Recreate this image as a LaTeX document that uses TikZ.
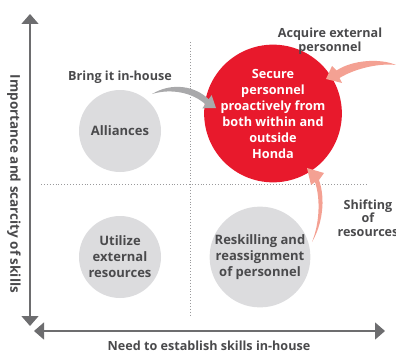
\documentclass[tikz,border=0pt]{standalone}
\usepackage{fontspec}
\setmainfont{Open Sans}
\usetikzlibrary{arrows.meta}
\definecolor{hondared}{HTML}{E8192C}
\definecolor{salmon}{HTML}{F4A193}
\definecolor{circgray}{HTML}{DCDCDE}
\definecolor{arrowgray}{HTML}{A9A9AB}
\definecolor{axisgray}{HTML}{6D6D6F}
\definecolor{dotgray}{HTML}{9A9A9C}
\definecolor{textgray}{HTML}{4A4A4C}
\tikzset{
  axis/.style={line width=1.5pt, draw=axisgray,
    {Triangle[width=17pt,length=10pt,fill=axisgray]}-{Triangle[width=17pt,length=10pt,fill=axisgray]}},
  gridline/.style={dotted, line width=0.9pt, draw=dotgray},
  quad/.style={circle, fill=circgray, minimum size=82pt, inner sep=0pt,
    align=center, text=textgray, font=\bfseries\fontsize{13}{16}\selectfont},
  goal/.style={circle, fill=hondared, minimum size=114pt, inner sep=0pt,
    align=center, text=white, font=\bfseries\fontsize{12.7}{16}\selectfont},
  lbl/.style={align=center, text=textgray, font=\bfseries\fontsize{12.6}{13.5}\selectfont},
}
\begin{document}
\begin{tikzpicture}[x=1pt,y=-1pt]
  \useasboundingbox (0,0) rectangle (396,361);

  % Achsen
  \coordinate (ytop) at (30,14);
  \coordinate (ybot) at (30,326);
  \coordinate (xleft) at (34,331);
  \coordinate (xright) at (385,331);
  \draw[axis] (ybot) -- (ytop);
  \draw[axis] (xleft) -- (xright);

  % Quadranten
  \draw[gridline] (190,42) -- (190,317);
  \draw[gridline] (41,184) -- (368,184);

  % Kreise
  \node[quad] (alli) at (120,131) {Alliances};
  \node[quad] (util) at (120,257) {Utilize\\external\\resources};
  \node[quad] (resk) at (260,257) {Reskilling and\\reassignment\\of personnel};
  \node[goal] (secure) at (273,113.5) {Secure\\personnel\\proactively from\\both within and\\outside\\Honda};

  % Pfeile
  \coordinate (inhouse) at (152,94);
  \fill[arrowgray] (inhouse) .. controls (172,82) and (195,86) .. (208.7,99.2)
    -- (211.6,95.1) -- (216,108) -- (202.4,108.3) -- (205.3,104.2)
    .. controls (193,93) and (172,88) .. (inhouse) -- cycle;
  \coordinate (outside) at (396,65);
  \fill[salmon] (outside) .. controls (380,58) and (352,60) .. (336.5,70.5)
    -- (332,66) -- (326,79) -- (342,83) -- (339.5,78)
    .. controls (356,68) and (380,63) .. (outside) -- cycle;
  \coordinate (shift) at (312,242);
  \fill[salmon] (shift) .. controls (322,225) and (326,200) .. (319,180)
    -- (324,173) -- (307,168) -- (311,185) -- (315,182)
    .. controls (321,200) and (319,225) .. (shift) -- cycle;

  % Beschriftungen
  \node[lbl] (lbring) at (120,77) {Bring it in-house};
  \node[lbl] (lacq) at (330,41) {Acquire external\\personnel};
  \node[lbl] (lshift) at (368,218) {Shifting\\of\\resources};
  \node[lbl] (lx) at (209,346) {Need to establish skills in-house};
  \node[lbl, rotate=-90, font=\bfseries\fontsize{13.5}{14}\selectfont] (ly) at (14,184) {Importance and scarcity of skills};
\end{tikzpicture}
\end{document}
